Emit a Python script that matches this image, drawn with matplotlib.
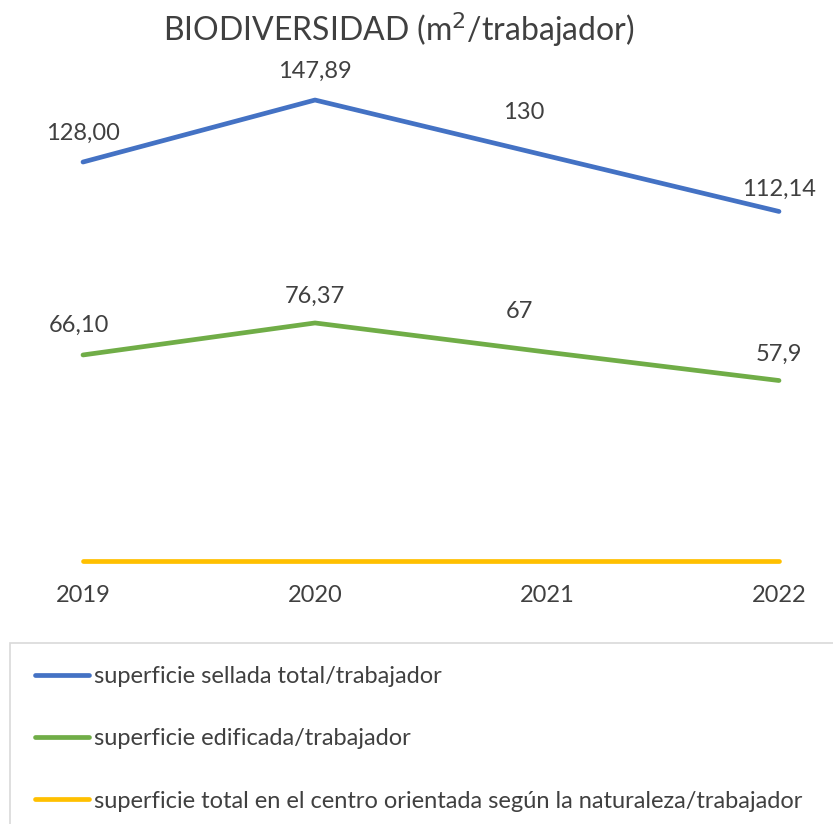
import matplotlib
matplotlib.use("Agg")
import matplotlib.pyplot as plt
from matplotlib.patches import Rectangle
from matplotlib.lines import Line2D

plt.rcParams['font.family'] = ['Lato', 'DejaVu Sans']

years = ["2019", "2020", "2021", "2022"]
sellada = [128.00, 147.89, 130, 112.14]
sellada_labels = ["128,00", "147,89", "130", "112,14"]
edificada = [66.10, 76.37, 67, 57.9]
edificada_labels = ["66,10", "76,37", "67", "57,9"]
naturaleza = [0, 0, 0, 0]
series_names = ["superficie sellada total/trabajador",
                "superficie edificada/trabajador",
                "superficie total en el centro orientada según la naturaleza/trabajador"]

c_blue = "#4472C4"
c_green = "#70AD47"
c_yellow = "#FFC000"
txt = "#404040"

W, H = 833, 824
fig = plt.figure(figsize=(W/100, H/100), dpi=100)
x0, x1 = 83, 779
yb = 561
ppu = 3.117
ymax = 150
ax = fig.add_axes([x0/W, (H-yb)/H, (x1-x0)/W, ymax*ppu/H])
ax.set_xlim(0, 3)
ax.set_ylim(0, ymax)
for s in ax.spines.values():
    s.set_visible(False)
ax.set_yticks([])
xs = list(range(len(years)))
ax.set_xticks(xs)
ax.set_xticklabels(years, fontsize=17, color=txt)
ax.tick_params(axis='x', length=0, pad=17)

lw = 3.4
ax.plot(xs, sellada, color=c_blue, lw=lw, solid_capstyle='round', clip_on=False)
ax.plot(xs, edificada, color=c_green, lw=lw, solid_capstyle='round', clip_on=False)
ax.plot(xs, naturaleza, color=c_yellow, lw=lw, solid_capstyle='round', clip_on=False)

off_s = [(0, 21), (0, 21), (-17, 31), (0, 16)]
off_e = [(-3, 21), (0, 19), (-20, 29), (0, 19)]
for i in xs:
    ax.annotate(sellada_labels[i], (i, sellada[i]), xytext=off_s[i], textcoords='offset points',
                ha='center', va='center', fontsize=17, color=txt, annotation_clip=False)
    ax.annotate(edificada_labels[i], (i, edificada[i]), xytext=off_e[i], textcoords='offset points',
                ha='center', va='center', fontsize=17, color=txt, annotation_clip=False)

fig.text(399/W, 1-30/H, "BIODIVERSIDAD (m$^2$/trabajador)", ha='center', va='center',
         fontsize=23, color=txt)

top = 1 - 643/H
fig.patches.append(Rectangle((10/W, -0.05), 1.2, top + 0.05, transform=fig.transFigure,
                             facecolor='none', edgecolor='#D9D9D9', lw=1.2))

handles = [Line2D([], [], color=c, lw=lw, solid_capstyle='round') for c in (c_blue, c_green, c_yellow)]
fig.legend(handles, series_names, loc='upper left', bbox_to_anchor=(35/W, 1-666/H),
           frameon=False, fontsize=17, labelcolor=txt, handlelength=2.3, handletextpad=0.2,
           labelspacing=1.75, borderaxespad=0, borderpad=0)

fig.savefig("out.png", dpi=100)
